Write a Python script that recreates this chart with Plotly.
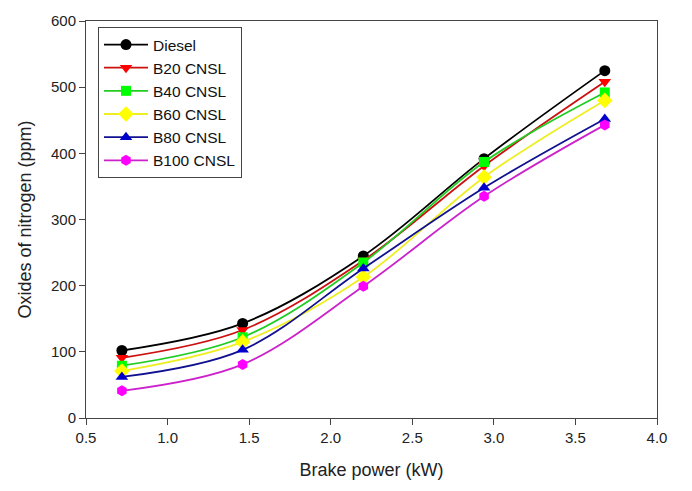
import plotly.graph_objects as go

brake_power = [0.72, 1.46, 2.20, 2.94, 3.68]

series_names = ["Diesel", "B20 CNSL", "B40 CNSL", "B60 CNSL", "B80 CNSL", "B100 CNSL"]
diesel = [102, 143, 245, 392, 525]
b20 = [91, 133, 238, 381, 508]
b40 = [79, 122, 235, 387, 492]
b60 = [71, 115, 213, 364, 480]
b80 = [62, 103, 226, 348, 452]
b100 = [41, 81, 199, 335, 443]

values = [diesel, b20, b40, b60, b80, b100]
line_colors = ["#000000", "#cc1010", "#22cc22", "#eeee22", "#101090", "#cc22cc"]
marker_colors = ["#000000", "#ff0000", "#00ff00", "#ffff00", "#0000cc", "#ff00ff"]
symbols = ["circle", "triangle-down", "square", "diamond", "triangle-up", "hexagon"]
sizes = [11, 11, 10, 12, 11, 11]

fig = go.Figure()
for name, ys, lc, mc, sym, sz in zip(series_names, values, line_colors, marker_colors, symbols, sizes):
    fig.add_trace(go.Scatter(
        x=brake_power, y=ys, name=name, mode="lines+markers",
        line=dict(color=lc, width=1.8, shape="spline", smoothing=1.0),
        marker=dict(symbol=sym, size=sz, color=mc, line=dict(width=0)),
    ))

axis_common = dict(
    showgrid=False, zeroline=False, showline=True, linecolor="#444", linewidth=1,
    mirror=True, ticks="outside", ticklen=6, tickcolor="#444",
    tickfont=dict(family="Liberation Sans, Arial", size=15, color="#222"),
)

fig.update_layout(
    width=692, height=491,
    margin=dict(l=86, r=35, t=14, b=73),
    paper_bgcolor="white", plot_bgcolor="white",
    font=dict(family="Liberation Sans, Arial", color="#222"),
    xaxis=dict(range=[0.5, 4.0], tickvals=[0.5, 1.0, 1.5, 2.0, 2.5, 3.0, 3.5, 4.0],
               ticktext=["0.5", "1.0", "1.5", "2.0", "2.5", "3.0", "3.5", "4.0"],
               title=dict(text="Brake power (kW)", font=dict(size=18), standoff=18),
               **axis_common),
    yaxis=dict(range=[0, 600], tickvals=[0, 100, 200, 300, 400, 500, 600],
               title=dict(text="Oxides of nitrogen (ppm)", font=dict(size=18), standoff=14),
               **axis_common),
    legend=dict(x=0.021, y=0.985, xanchor="left", yanchor="top",
                bordercolor="#444", borderwidth=1, bgcolor="white",
                font=dict(size=15.5, color="#111"), tracegroupgap=0,
                itemwidth=44),
    showlegend=True,
)

fig.write_html("out.html")
